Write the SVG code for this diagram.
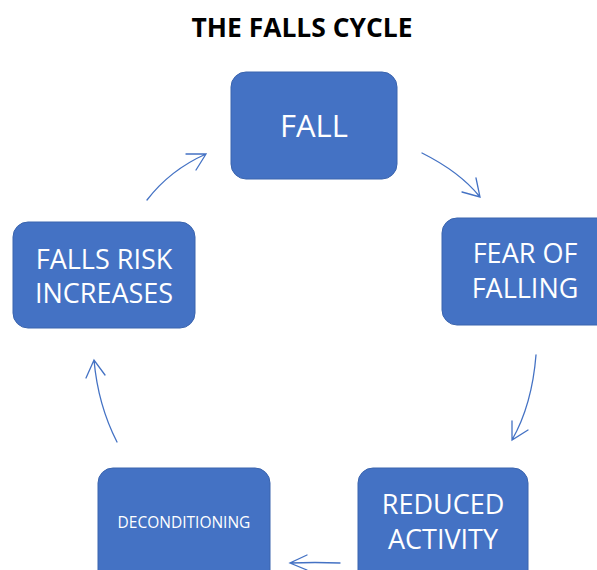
<svg xmlns="http://www.w3.org/2000/svg" width="597" height="570" viewBox="0 0 597 570">
<style>
.box{fill:#4472C4;stroke:#3A64AE;stroke-width:1}
.t{font-family:"Open Sans","Liberation Sans",sans-serif;fill:#fff;text-anchor:middle}
.c{fill:none;stroke:#4472C4;stroke-width:1.3;stroke-linecap:round}
</style>
<rect width="597" height="570" fill="#fff"/>
<text x="302" y="37" font-family="Open Sans, Liberation Sans, sans-serif" font-weight="bold" font-size="26" text-anchor="middle" fill="#000" textLength="221" lengthAdjust="spacingAndGlyphs">THE FALLS CYCLE</text>
<g id="fall"><rect class="box" x="231" y="72" width="166" height="107" rx="15"/><text class="t" x="314" y="137" font-size="31">FALL</text></g>
<g id="fear"><rect class="box" x="442" y="218" width="170" height="107" rx="15"/><text class="t" x="525" y="263" font-size="27">FEAR OF</text><text class="t" x="525" y="298" font-size="27">FALLING</text></g>
<g id="reduced"><rect class="box" x="358" y="468" width="170" height="120" rx="15"/><text class="t" x="443" y="514" font-size="27">REDUCED</text><text class="t" x="443" y="549" font-size="27">ACTIVITY</text></g>
<g id="decon"><rect class="box" x="98" y="468" width="172" height="120" rx="15"/><text class="t" x="184" y="528" font-size="15.5">DECONDITIONING</text></g>
<g id="risk"><rect class="box" x="13" y="222" width="182" height="106" rx="15"/><text class="t" x="104" y="269" font-size="27">FALLS RISK</text><text class="t" x="104" y="303" font-size="27">INCREASES</text></g>
<g id="connectors">
<path class="c" d="M147 200 Q170 170 206 154 M186 154 L206 154 L196 170"/>
<path class="c" d="M422 153 Q460 172 480 197 M462 192 L480 197 L476 178"/>
<path class="c" d="M536 355 Q532 405 512 440 M512 421 L512 440 L528 430"/>
<path class="c" d="M340 563 Q315 562 290 563 M307 555 L290 563 L307 570"/>
<path class="c" d="M117 442 Q98 405 94 360 M86 378 L94 360 L105 375"/>
</g>
</svg>
